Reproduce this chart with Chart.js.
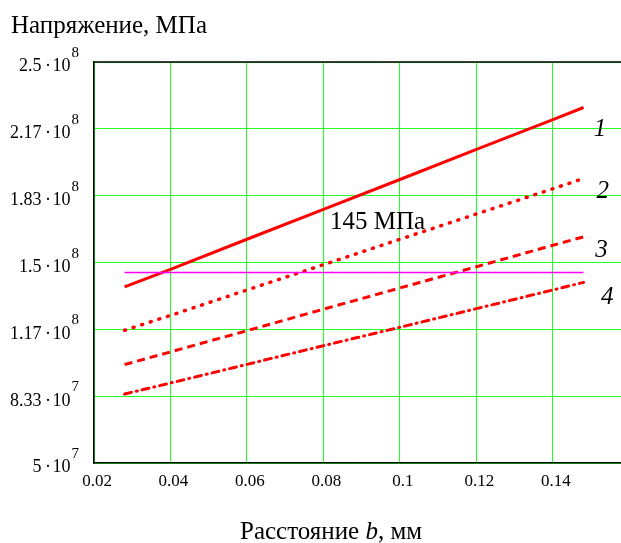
<!DOCTYPE html>
<html>
<head>
<meta charset="utf-8">
<script src="https://cdn.jsdelivr.net/npm/chart.js@4/dist/chart.umd.min.js"></script>
<style>
  html, body { margin: 0; padding: 0; background: #fff; overflow: hidden; }
  canvas { display: block; }
</style>
</head>
<body>
<canvas id="chart" width="621" height="543"></canvas>
<script>
// Расстояние b, м
const xValues = [0.028, 0.04, 0.06, 0.08, 0.1, 0.12, 0.14, 0.148];
// Напряжение, Па (кривые 1-4)
const stress1 = [1.378e8, 1.466e8, 1.616e8, 1.765e8, 1.914e8, 2.064e8, 2.213e8, 2.273e8];
const stress2 = [1.162e8, 1.236e8, 1.363e8, 1.489e8, 1.616e8, 1.742e8, 1.868e8, 1.919e8];
const stress3 = [9.91e7, 1.054e8, 1.160e8, 1.267e8, 1.373e8, 1.479e8, 1.586e8, 1.628e8];
const stress4 = [8.44e7, 8.99e7, 9.92e7, 1.085e8, 1.177e8, 1.270e8, 1.363e8, 1.401e8];
const limitStress = 1.45e8; // 145 МПа

const xTicks = [0.02, 0.04, 0.06, 0.08, 0.1, 0.12, 0.14];
const xTickLabels = ["0.02", "0.04", "0.06", "0.08", "0.1", "0.12", "0.14"];
const yTicks = [5e7, 8.3333e7, 1.16667e8, 1.5e8, 1.83333e8, 2.16667e8, 2.5e8];
const yTickMant = ["5", "8.33", "1.17", "1.5", "1.83", "2.17", "2.5"];
const yTickExp = ["7", "7", "8", "8", "8", "8", "8"];
const curveNames = ["1", "2", "3", "4"];

const SERIF = '"Liberation Serif", "Times New Roman", serif';
const RED = "#ff0000";
const GRID = "#22ff22";

const pts = (ys) => xValues.map((x, i) => ({ x, y: ys[i] }));

// где подписать кривые и линию 145 МПа (в координатах данных)
const curveLabelAt = [
    { x: 0.1523, y: 2.132e8 },
    { x: 0.1530, y: 1.823e8 },
    { x: 0.1527, y: 1.528e8 },
    { x: 0.1542, y: 1.292e8 }
];
const limitLabelAt = { x: 0.0817, y: 1.665e8 };

const textPlugin = {
    id: "mathcadText",
    afterDraw(chart) {
        const { ctx, chartArea: a, scales } = chart;
        const xs = scales.x, ys = scales.y;
        ctx.save();
        ctx.fillStyle = "#000";
        ctx.textBaseline = "alphabetic";

        // верхняя рамка
        ctx.strokeStyle = "#000";
        ctx.lineWidth = 1.5;
        ctx.beginPath();
        ctx.moveTo(a.left, a.top);
        ctx.lineTo(a.right, a.top);
        ctx.stroke();

        // подписи оси X
        ctx.font = `17px ${SERIF}`;
        ctx.textAlign = "center";
        xTicks.forEach((v, i) => ctx.fillText(xTickLabels[i], xs.getPixelForValue(v) + 3, a.bottom + 22.5));

        // подписи оси Y: мантисса·10 и степень
        yTicks.forEach((v, i) => {
            const py = ys.getPixelForValue(v);
            const right = a.left - 15;
            ctx.font = `15px ${SERIF}`;
            ctx.textAlign = "right";
            ctx.fillText(yTickExp[i], right, py - 5);
            const ew = ctx.measureText(yTickExp[i]).width;
            ctx.font = `18px ${SERIF}`;
            ctx.fillText(yTickMant[i] + "\u2009\u00b7\u200a10", right - ew - 1, py + 9.4);
        });

        // номера кривых
        ctx.font = `italic 25px ${SERIF}`;
        ctx.textAlign = "center";
        curveNames.forEach((n, i) => {
            const p = curveLabelAt[i];
            ctx.fillText(n, xs.getPixelForValue(p.x), ys.getPixelForValue(p.y));
        });

        // 145 МПа
        ctx.font = `25px ${SERIF}`;
        ctx.textAlign = "left";
        ctx.fillText("145 МПа", xs.getPixelForValue(limitLabelAt.x), ys.getPixelForValue(limitLabelAt.y));

        // заголовки осей
        ctx.font = `25px ${SERIF}`;
        ctx.textAlign = "left";
        ctx.fillText("Напряжение, МПа", 11, 33);

        const p1 = "Расстояние ", p2 = "b", p3 = ", мм";
        ctx.font = `25px ${SERIF}`;
        const w1 = ctx.measureText(p1).width, w3 = ctx.measureText(p3).width;
        ctx.font = `italic 25px ${SERIF}`;
        const w2 = ctx.measureText(p2).width;
        const x0 = 331 - (w1 + w2 + w3) / 2;
        const by = 539;
        ctx.font = `25px ${SERIF}`;
        ctx.fillText(p1, x0, by);
        ctx.font = `italic 25px ${SERIF}`;
        ctx.fillText(p2, x0 + w1, by);
        ctx.font = `25px ${SERIF}`;
        ctx.fillText(p3, x0 + w1 + w2, by);
        ctx.restore();
    }
};

const lineSet = (data, dash, cap, width) => ({
    data: pts(data),
    borderColor: RED,
    borderWidth: width || 3,
    borderDash: dash,
    borderCapStyle: cap || "butt",
    pointRadius: 0,
    tension: 0,
    fill: false
});

new Chart(document.getElementById("chart"), {
    type: "line",
    data: {
        datasets: [
            {
                data: [{ x: xValues[0], y: limitStress }, { x: xValues[xValues.length - 1], y: limitStress }],
                borderColor: "#ff00ff",
                borderWidth: 1.5,
                pointRadius: 0,
                fill: false
            },
            lineSet(stress1, []),
            lineSet(stress2, [1, 8], "round", 3.5),
            lineSet(stress3, [8, 5]),
            lineSet(stress4, [7, 5, 1, 5], "round")
        ]
    },
    options: {
        responsive: false,
        animation: false,
        devicePixelRatio: 1,
        layout: { padding: { left: 94, top: 62, right: 0, bottom: 80 } },
        plugins: { legend: { display: false }, tooltip: { enabled: false } },
        scales: {
            x: {
                type: "linear",
                min: 0.02,
                max: 0.1578,
                afterBuildTicks: (s) => { s.ticks = xTicks.map((v) => ({ value: v })); },
                ticks: { display: false },
                grid: { color: GRID, lineWidth: 1, drawTicks: false },
                border: { color: "#000", width: 1.5 }
            },
            y: {
                type: "linear",
                min: 5e7,
                max: 2.5e8,
                afterBuildTicks: (s) => { s.ticks = yTicks.map((v) => ({ value: v })); },
                ticks: { display: false },
                grid: { color: GRID, lineWidth: 1, drawTicks: false },
                border: { color: "#000", width: 1.5 }
            }
        }
    },
    plugins: [textPlugin]
});
</script>
</body>
</html>
